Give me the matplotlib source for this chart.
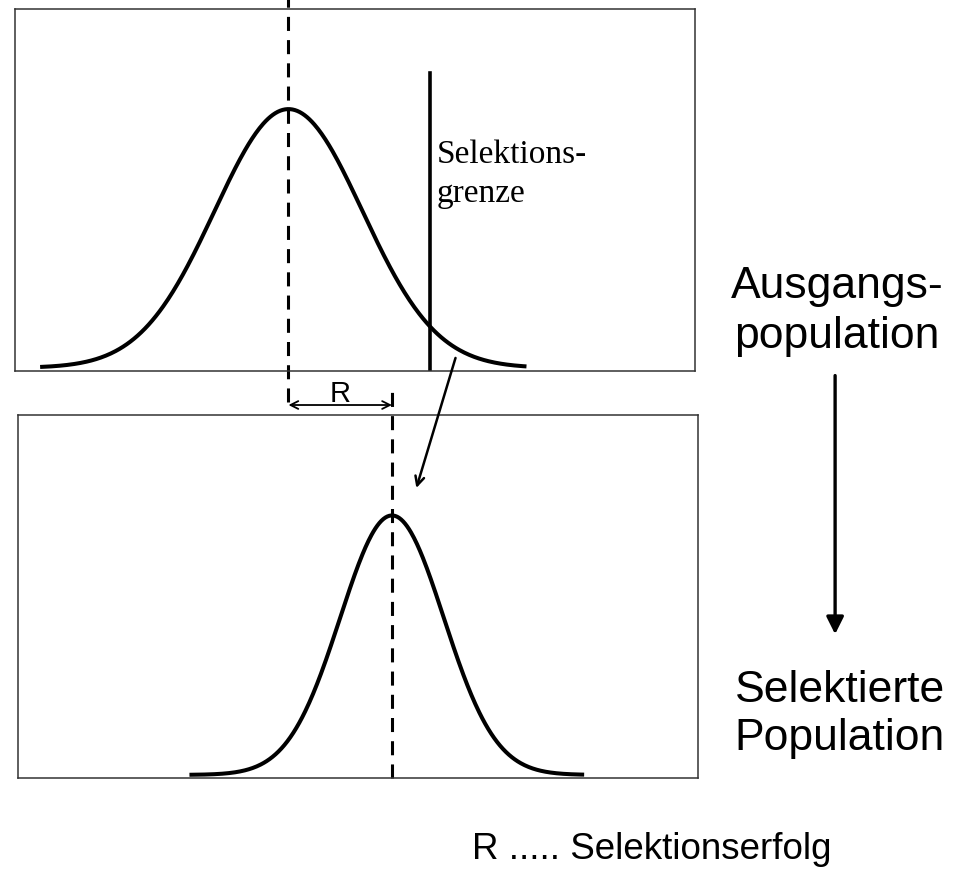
import numpy as np
import matplotlib.pyplot as plt

# population parameters (trait units)
mean_start = 100.0
sd_start = 10.0
mean_selected = 114.0
sd_selected = 7.0
threshold = 119.2
curve_start = (66.4, 132.2)
curve_selected = (86.6, 140.0)

labels_right = ['Ausgangs-', 'population', 'Selektierte', 'Population']
label_cut = ['Selektions-', 'grenze']
label_R = 'R'
footnote = 'R ..... Selektionserfolg'

fig = plt.figure(figsize=(9.61, 8.69), dpi=100)
ax_top = fig.add_axes([0.0156, 0.5731, 0.7076, 0.4166])
ax_bot = fig.add_axes([0.0187, 0.1047, 0.7076, 0.4177])

for ax, xl in [(ax_top, (63.0, 155.0)), (ax_bot, (63.4, 155.4))]:
    ax.set_xlim(*xl)
    ax.set_ylim(-0.012, 1.387)
    ax.set_xticks([])
    ax.set_yticks([])
    for s in ax.spines.values():
        s.set_linewidth(1.1)
        s.set_color('#333333')

# bell curves (peak normalised to 1)
x1 = np.linspace(curve_start[0], curve_start[1], 400)
y1 = np.exp(-0.5 * ((x1 - mean_start) / sd_start) ** 2)
ax_top.plot(x1, y1, color='black', lw=2.9, solid_capstyle='butt')

x2 = np.linspace(curve_selected[0], curve_selected[1], 400)
y2 = np.exp(-0.5 * ((x2 - mean_selected) / sd_selected) ** 2)
ax_bot.plot(x2, y2, color='black', lw=2.9, solid_capstyle='butt')

# mean lines
ax_top.axvline(mean_start, ymin=-0.086, ymax=1.03, color='black', lw=2.2,
               dashes=(4.6, 3.0), clip_on=False)
ax_bot.axvline(mean_selected, ymin=0.0, ymax=1.063, color='black', lw=2.2,
               dashes=(4.6, 3.0), clip_on=False)

# selection threshold
ax_top.axvline(threshold, ymin=0.0, ymax=0.823, color='black', lw=2.6)
ax_top.text(threshold + 0.9, 0.575, label_cut[0], transform=ax_top.get_xaxis_transform(),
            family='Liberation Serif', fontsize=24, va='baseline', ha='left')
ax_top.text(threshold + 0.9, 0.466, label_cut[1], transform=ax_top.get_xaxis_transform(),
            family='Liberation Serif', fontsize=24, va='baseline', ha='left')

# R: selection response
ax_top.annotate('', xy=(mean_selected, -0.094), xytext=(mean_start, -0.094),
                xycoords=('data', 'axes fraction'), textcoords=('data', 'axes fraction'),
                arrowprops=dict(arrowstyle='<->', lw=1.3, color='black',
                                shrinkA=0, shrinkB=0, mutation_scale=14),
                annotation_clip=False)
ax_top.text((mean_start + mean_selected) / 2, -0.085, label_R,
            transform=ax_top.get_xaxis_transform(), family='Liberation Sans',
            fontsize=21, ha='center', va='baseline')

# arrow from the selected tail to the new population
ax_bot.annotate('', xy=(117.3, 0.799), xycoords=('data', 'axes fraction'),
                xytext=(122.6, 0.036),
                textcoords=(ax_top.transData, ax_top.transAxes),
                arrowprops=dict(arrowstyle='->', lw=1.8, color='black',
                                shrinkA=0, shrinkB=0, mutation_scale=16),
                annotation_clip=False)

# right hand labels
fig.text(0.871, 0.657, labels_right[0], family='Liberation Sans', fontsize=32,
         ha='center', va='baseline')
fig.text(0.871, 0.600, labels_right[1], family='Liberation Sans', fontsize=32,
         ha='center', va='baseline')
fig.text(0.874, 0.192, labels_right[2], family='Liberation Sans', fontsize=32,
         ha='center', va='baseline')
fig.text(0.874, 0.137, labels_right[3], family='Liberation Sans', fontsize=32,
         ha='center', va='baseline')
fig.patches.append(plt.matplotlib.patches.FancyArrowPatch(
    (0.869, 0.571), (0.869, 0.267), transform=fig.transFigure,
    arrowstyle='-|>', mutation_scale=26, lw=2.4, color='black'))

fig.text(0.491, 0.0115, footnote, family='Liberation Sans', fontsize=26.5,
         ha='left', va='baseline')

fig.savefig('out.png', dpi=100, facecolor='white')
